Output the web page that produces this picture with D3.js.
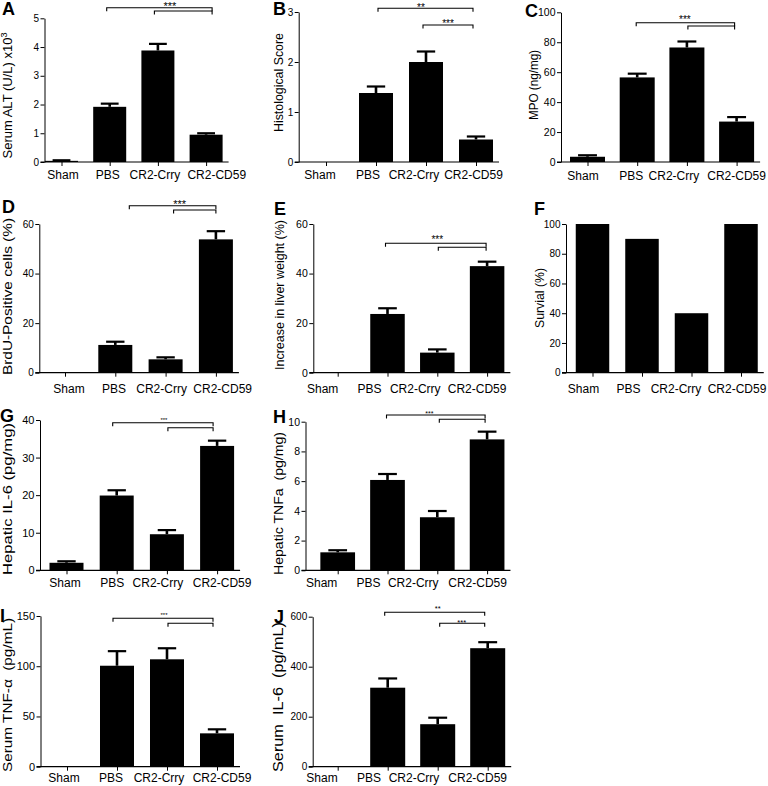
<!DOCTYPE html>
<html><head><meta charset="utf-8">
<script src="https://cdn.jsdelivr.net/npm/d3@7"></script>
<style>
body{margin:0;background:#fff}
svg text{font-family:"Liberation Sans",Arial,Helvetica,sans-serif;fill:#000}
</style>
</head><body>
<svg id="c" width="768" height="786"></svg>
<script>
// ---------- data ----------
const categories = ["Sham", "PBS", "CR2-Crry", "CR2-CD59"];

const altMean   = [0.04, 1.92, 3.88, 0.95];
const altErr    = [0.02, 0.11, 0.23, 0.05];
const histMean  = [0, 1.38, 2.0, 0.45];
const histErr   = [0, 0.13, 0.21, 0.06];
const mpoMean   = [3.5, 56.5, 76.5, 27];
const mpoErr    = [1.0, 2.5, 4.0, 3.0];
const brduMean  = [0, 11.2, 5.4, 53.8];
const brduErr   = [0, 1.3, 0.8, 3.3];
const liverMean = [0, 23.7, 8.1, 43.0];
const liverErr  = [0, 2.3, 1.3, 1.8];
const survival  = [100, 90, 40, 100];
const il6HepMean = [2.0, 19.9, 9.6, 33.1];
const il6HepErr  = [0.4, 1.4, 1.1, 1.4];
const tnfHepMean = [1.21, 6.08, 3.57, 8.81];
const tnfHepErr  = [0.14, 0.40, 0.42, 0.52];
const tnfSerMean = [0, 100.5, 106.9, 33.2];
const tnfSerErr  = [0, 14.5, 11.0, 4.0];
const il6SerMean = [0, 316, 170, 474];
const il6SerErr  = [0, 37, 26, 24];

const ticksA = [0, 1, 2, 3, 4, 5];
const ticksB = [0, 1, 2, 3];
const ticksC = [0, 20, 40, 60, 80, 100];
const ticksD = [0, 20, 40, 60];
const ticksE = [0, 20, 40, 60];
const ticksF = [0, 20, 40, 60, 80, 100];
const ticksG = [0, 10, 20, 30, 40];
const ticksH = [0, 2, 4, 6, 8, 10];
const ticksI = [0, 50, 100, 150];
const ticksJ = [0, 200, 400, 600];

// ---------- layout ----------
const panels = [
 {letter:"A", lx:2, ly:15, mean:altMean, err:altErr, ticks:ticksA, yMax:5, y0:162, yTop:18.3,
  axisX:44.5, x1:61.5, step:48.2, barW:33, tickFs:10, xlY:179, lblDx:[1.5,-2,-3,10.7],
  title:["Serum ALT (U/L) x10","3"], tx:7, ty:95.5, tlen:null, tfs:13,
  brackets:[{a:1,b:3,da:-3,db:6,y:7.7},{a:2,b:3,da:-3.5,db:6,y:11}],
  stars:[{t:"***",a:1,b:3,dx:12,cy:3.5,fs:11}]},
 {letter:"B", lx:273, ly:15, mean:histMean, err:histErr, ticks:ticksB, yMax:3, y0:162, yTop:12,
  axisX:298.7, x1:326, step:50, barW:34, tickFs:10, xlY:179, lblDx:[-6,-8,-12,-2.5],
  title:["Histological Score"], tx:279, ty:82.5, tlen:99, tfs:12.5,
  brackets:[{a:1,b:3,da:2,db:-3,y:8.3},{a:2,b:3,da:-3,db:-3,y:25}],
  stars:[{t:"**",a:1,b:3,dx:-5,cy:5,fs:10},{t:"***",a:2,b:3,dx:-3,cy:21.7,fs:10}]},
 {letter:"C", lx:525, ly:17, mean:mpoMean, err:mpoErr, ticks:ticksC, yMax:100, y0:162, yTop:12.3,
  axisX:561, x1:587.5, step:49.7, barW:35, tickFs:10.5, xlY:180, lblDx:[-4.5,-6,-13,0],
  title:["MPO (ng/mg)"], tx:533, ty:85, tlen:70, tfs:13,
  brackets:[{a:1,b:3,da:-1,db:-2,y:22.7},{a:2,b:3,da:1,db:-2,y:26}],
  stars:[{t:"***",a:1,b:3,dx:-2,cy:17,fs:10}]},
 {letter:"D", lx:2, ly:213, mean:brduMean, err:brduErr, ticks:ticksD, yMax:60, y0:372.7, yTop:224,
  axisX:39.3, x1:65, step:50.3, barW:34, tickFs:10, xlY:393, lblDx:[4,-1.3,-4,6.8],
  title:["BrdU-Positive cells (%)"], tx:7, ty:296.5, tlen:157, tfs:13.5,
  brackets:[{a:1,b:3,da:14,db:0,y:205.7},{a:2,b:3,da:8,db:0,y:210}],
  stars:[{t:"***",a:1,b:3,dx:14,cy:201.7,fs:11}]},
 {letter:"E", lx:274, ly:215, mean:liverMean, err:liverErr, ticks:ticksE, yMax:60, y0:372.7, yTop:224,
  axisX:313.3, x1:337.7, step:49.8, barW:34.5, tickFs:10.5, xlY:393, lblDx:[-15,-18,-22,-10],
  title:["Increase in liver weight (%)"], tx:279, ty:295, tlen:150, tfs:13,
  brackets:[{a:1,b:3,da:-2,db:-1,y:243.3},{a:2,b:3,da:1,db:-1,y:247.3}],
  stars:[{t:"***",a:1,b:3,dx:0,cy:237.7,fs:10}]},
 {letter:"F", lx:534, ly:215, mean:survival, err:null, ticks:ticksF, yMax:100, y0:372.7, yTop:224,
  axisX:566, x1:592.5, step:49.5, barW:33.5, tickFs:10, xlY:393, lblDx:[-9,-13.4,-15.5,-4],
  title:["Survial (%)"], tx:539.5, ty:298, tlen:60, tfs:13,
  brackets:[], stars:[]},
 {letter:"G", lx:0, ly:422, mean:il6HepMean, err:il6HepErr, ticks:ticksG, yMax:40, y0:570.3, yTop:420,
  axisX:40, x1:66.5, step:50.2, barW:34, tickFs:11, xlY:587, lblDx:[-1.5,-4.5,-9,5],
  title:["Hepatic IL-6 (pg/mg)"], tx:7.5, ty:499, tlen:152, tfs:13,
  brackets:[{a:1,b:3,da:-4,db:-4,y:422.7},{a:2,b:3,da:1,db:-4,y:427.7}],
  stars:[{t:"***",a:1,b:3,dx:-3,cy:418.3,fs:6}]},
 {letter:"H", lx:273, ly:423, mean:tnfHepMean, err:tnfHepErr, ticks:ticksH, yMax:10, y0:570.3, yTop:421.7,
  axisX:305.5, x1:337.7, step:49.8, barW:34.7, tickFs:10.5, xlY:587, lblDx:[-16,-19,-24,-9.5],
  title:["Hepatic TNFa  (pg/mg)"], tx:278.5, ty:503.5, tlen:143, tfs:13.5,
  brackets:[{a:1,b:3,da:-1,db:-2,y:415},{a:2,b:3,da:2,db:-2,y:419.3}],
  stars:[{t:"***",a:1,b:3,dx:-8,cy:411.7,fs:7}]},
 {letter:"I", lx:0, ly:622, mean:tnfSerMean, err:tnfSerErr, ticks:ticksI, yMax:150, y0:766.7, yTop:616,
  axisX:40.5, x1:67, step:50, barW:34, tickFs:11, xlY:782, lblDx:[-3,-6,-8,5],
  title:["Serum TNF-\u03b1  (pg/mL)"], tx:7.5, ty:695, tlen:154, tfs:13.5,
  brackets:[{a:1,b:3,da:-4,db:-4,y:618.3},{a:2,b:3,da:1,db:-4,y:623.3}],
  stars:[{t:"***",a:1,b:3,dx:-3,cy:614,fs:6}]},
 {letter:"J", lx:274, ly:623, mean:il6SerMean, err:il6SerErr, ticks:ticksJ, yMax:600, y0:766.7, yTop:616.7,
  axisX:312.7, x1:337.7, step:50, barW:35, tickFs:10, xlY:782, lblDx:[-15.7,-18.7,-23.7,-10],
  title:["Serum  IL-6  (pg/mL)"], tx:278.5, ty:697, tlen:150, tfs:14,
  brackets:[{a:1,b:3,da:-3,db:-3,y:612.3},{a:2,b:3,da:2,db:-3,y:623.3}],
  stars:[{t:"**",a:1,b:3,dx:0,cy:606.7,fs:7.5},{t:"***",a:2,b:3,dx:-1,cy:621,fs:7.5}]}
];

const svg = d3.select("#c");
const FONT = '"Liberation Sans",Arial,Helvetica,sans-serif';

panels.forEach(p => {
  const g = svg.append("g");
  const y = d3.scaleLinear().domain([0, p.yMax]).range([p.y0, p.yTop]);
  const x = d3.scalePoint().domain(categories).range([p.x1, p.x1 + 3 * p.step]);
  const rows = categories.map((c, i) => ({c, m: p.mean[i], e: p.err ? p.err[i] : 0}));

  // bars
  g.selectAll("rect.bar").data(rows.filter(d => d.m > 0)).join("rect")
    .attr("class", "bar")
    .attr("x", d => x(d.c) - p.barW / 2).attr("width", p.barW)
    .attr("y", d => y(d.m)).attr("height", d => p.y0 - y(d.m))
    .attr("fill", "#000");

  // error bars (upper only)
  if (p.err) {
    const eb = rows.filter(d => d.m > 0 && d.e > 0);
    g.selectAll("line.stem").data(eb).join("line")
      .attr("x1", d => x(d.c)).attr("x2", d => x(d.c))
      .attr("y1", d => y(d.m)).attr("y2", d => y(d.m + d.e))
      .attr("stroke", "#000").attr("stroke-width", 2.6);
    g.selectAll("line.cap").data(eb).join("line")
      .attr("x1", d => x(d.c) - p.barW * 0.27).attr("x2", d => x(d.c) + p.barW * 0.27)
      .attr("y1", d => y(d.m + d.e)).attr("y2", d => y(d.m + d.e))
      .attr("stroke", "#000").attr("stroke-width", 2.2);
  }

  // y axis
  const ya = g.append("g").attr("transform", `translate(${p.axisX},0)`)
    .call(d3.axisLeft(y).tickValues(p.ticks).tickSize(4).tickSizeOuter(0).tickPadding(1.5).tickFormat(d3.format("d")));
  ya.selectAll("path,line").attr("stroke", "#000").attr("stroke-width", 1);
  ya.selectAll("text").attr("font-size", p.tickFs).attr("font-family", FONT).attr("fill", "#000");

  // x axis (ticks) + baseline
  const xa = g.append("g").attr("transform", `translate(0,${p.y0})`)
    .call(d3.axisBottom(x).tickSize(4).tickSizeOuter(0).tickFormat(""));
  xa.select(".domain").remove();
  xa.selectAll("line").attr("stroke", "#000").attr("stroke-width", 1);
  g.append("line").attr("x1", p.axisX - 4).attr("x2", x(categories[3]) + p.barW / 2 + 6)
    .attr("y1", p.y0).attr("y2", p.y0).attr("stroke", "#000").attr("stroke-width", 1.2);

  // category labels
  g.selectAll("text.xl").data(categories).join("text").attr("class", "xl")
    .attr("x", (d, i) => x(d) + p.lblDx[i]).attr("y", p.xlY).attr("text-anchor", "middle")
    .attr("font-size", 12).text(d => d);

  // y title
  const t = g.append("text")
    .attr("transform", `translate(${p.tx},${p.ty}) rotate(-90)`)
    .attr("text-anchor", "middle").attr("dy", "0.35em")
    .attr("font-size", p.tfs).style("white-space", "pre");
  t.append("tspan").text(p.title[0]);
  if (p.title[1]) t.append("tspan").attr("font-size", p.tfs * 0.7).attr("dy", "-0.55em").text(p.title[1]);
  if (p.tlen) t.attr("textLength", p.tlen).attr("lengthAdjust", "spacingAndGlyphs");

  // significance brackets
  p.brackets.forEach(b => {
    const xa1 = x(categories[b.a]) + b.da, xb1 = x(categories[b.b]) + b.db;
    g.append("path").attr("d", `M${xa1},${b.y + 3.5}V${b.y}H${xb1}V${b.y + 3.5}`)
      .attr("fill", "none").attr("stroke", "#000").attr("stroke-width", 1.1);
  });
  p.stars.forEach(s => {
    g.append("text").attr("x", (x(categories[s.a]) + x(categories[s.b])) / 2 + s.dx)
      .attr("y", s.cy + 0.575 * s.fs).attr("text-anchor", "middle")
      .attr("font-size", s.fs).text(s.t);
  });

  // panel letter
  g.append("text").attr("x", p.lx).attr("y", p.ly).attr("font-size", 18)
    .attr("font-weight", "bold").text(p.letter);
});
</script>
</body></html>
